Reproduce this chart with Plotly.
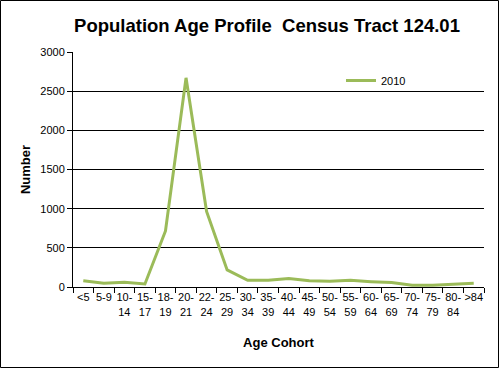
import plotly.graph_objects as go

categories = ["<5", "5-9", "10-<br>14", "15-<br>17", "18-<br>19", "20-<br>21", "22-<br>24",
              "25-<br>29", "30-<br>34", "35-<br>39", "40-<br>44", "45-<br>49", "50-<br>54",
              "55-<br>59", "60-<br>64", "65-<br>69", "70-<br>74", "75-<br>79", "80-<br>84", ">84"]
values_2010 = [81, 47, 60, 38, 715, 2670, 965, 218, 85, 85, 107, 81, 72, 85, 68, 56, 21, 21, 34, 47]
y_ticks = [0, 500, 1000, 1500, 2000, 2500, 3000]

L, R, T, B = 73, 15, 52, 81
W, H = 499, 368
pw, ph = W - L - R, H - T - B

fig = go.Figure()
fig.add_trace(go.Scatter(x=categories, y=values_2010, mode="lines", name="2010",
                         line=dict(color="#9BBB59", width=3)))

fig.update_layout(
    width=W, height=H,
    margin=dict(l=L, r=R, t=T, b=B, autoexpand=False),
    paper_bgcolor="white", plot_bgcolor="white",
    font=dict(family="Arial, Liberation Sans, sans-serif", color="black", size=11),
    title=dict(text="<b>Population Age Profile  Census Tract 124.01</b>",
               xref="paper", x=(267 - L) / pw, xanchor="center",
               yref="container", y=1 - 26 / H, yanchor="middle",
               font=dict(size=18.5)),
    showlegend=True,
    legend=dict(x=(341 - L) / pw, y=(287 - 66) / ph, xanchor="left", yanchor="top",
                bgcolor="rgba(0,0,0,0)", font=dict(size=11)),
    xaxis=dict(type="category", range=[-0.5, len(categories) - 0.5],
               showline=True, linecolor="black", linewidth=1,
               ticks="outside", tickson="boundaries", ticklen=5, tickcolor="black",
               showgrid=False, tickangle=0, automargin=False,
               title=dict(text="<b>Age Cohort</b>", font=dict(size=13), standoff=21)),
    yaxis=dict(range=[0, 3000], tickvals=y_ticks, showline=True, linecolor="black",
               linewidth=1, ticks="outside", ticklen=5, tickcolor="black",
               showgrid=True, gridcolor="black", gridwidth=1, zeroline=False,
               automargin=False,
               title=dict(text="<b>Number</b>", font=dict(size=13), standoff=6)),
    shapes=[dict(type="rect", xref="paper", yref="paper",
                 x0=(-L + 0.5) / pw, x1=(W - L - 0.5) / pw,
                 y0=(-B + 0.5) / ph, y1=(H - B - 0.5) / ph,
                 line=dict(color="black", width=1), layer="above")],
)

fig.write_html("out.html", config={"displayModeBar": False},
               post_script="document.body.style.margin='0';document.body.style.padding='0';")
